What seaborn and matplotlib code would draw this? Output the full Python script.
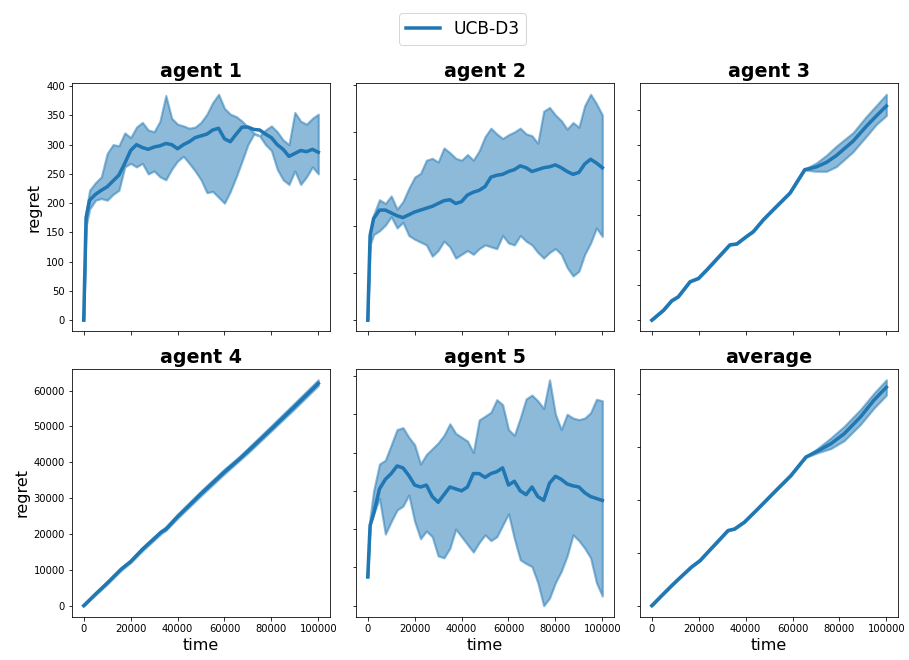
import numpy as np
import matplotlib
matplotlib.use("Agg")
import matplotlib.pyplot as plt
import seaborn as sns

# Shared time grid for the noisy agents (steps)
steps = [0, 1000] + list(range(2500, 100001, 2500))

# Agent 1 regret: mean and band bounds
a1_mean = [0, 175, 205, 215, 222, 228, 238, 248, 268, 290, 300, 295, 292, 296, 298, 302,
           300, 293, 300, 305, 312, 315, 318, 325, 328, 310, 305, 318, 330, 330, 326, 325,
           318, 312, 300, 292, 280, 285, 290, 288, 292, 287]
a1_upper = [0, 185, 222, 235, 245, 285, 300, 298, 320, 312, 330, 338, 325, 322, 340, 384,
            345, 335, 332, 328, 330, 338, 352, 372, 386, 362, 352, 348, 340, 330, 320, 315,
            325, 332, 322, 308, 300, 355, 340, 335, 345, 352]
a1_lower = [0, 160, 190, 205, 208, 205, 215, 222, 262, 268, 262, 268, 250, 255, 245, 240,
            258, 272, 280, 268, 255, 240, 218, 220, 210, 200, 220, 245, 272, 300, 318, 315,
            300, 290, 258, 240, 232, 255, 232, 245, 262, 250]

# Agent 2 regret
a2_mean = [0, 90, 108, 117, 117, 114, 111, 109, 112, 115, 117, 119, 121, 124, 127, 128,
           124, 126, 133, 136, 138, 142, 152, 154, 155, 158, 160, 164, 162, 158, 160, 162,
           163, 165, 162, 158, 155, 157, 166, 171, 167, 162]
a2_upper = [0, 95, 112, 128, 124, 132, 118, 126, 140, 152, 156, 170, 172, 168, 183, 178,
            172, 170, 176, 170, 180, 195, 204, 198, 193, 197, 200, 204, 198, 196, 188, 222,
            226, 218, 212, 203, 210, 205, 228, 240, 230, 218]
a2_lower = [0, 80, 91, 95, 101, 110, 98, 104, 90, 86, 83, 80, 68, 74, 84, 78,
            66, 70, 74, 70, 76, 80, 78, 76, 90, 82, 80, 90, 84, 80, 72, 66,
            72, 76, 70, 56, 47, 52, 70, 82, 98, 89]

# Agent 5 regret
a5_mean = [7500, 21000, 24000, 30500, 33000, 34500, 36500, 36000, 34000, 31500, 31000,
           31500, 28500, 27000, 29000, 31000, 30500, 30000, 31000, 34500, 34500, 33500,
           34500, 35000, 36000, 31500, 32500, 30000, 29000, 31000, 28500, 27500, 32000,
           33800, 33000, 31800, 31300, 31000, 29500, 28500, 28000, 27500]
a5_upper = [7500, 23000, 30000, 37000, 38000, 42000, 46000, 46500, 44000, 42000, 37000,
            39500, 41000, 42500, 44500, 47500, 45000, 44000, 43000, 40000, 48500, 49500,
            50500, 53800, 52500, 46000, 44500, 49000, 54000, 55000, 53500, 51500, 59000,
            50000, 46000, 50000, 49000, 48600, 49000, 50400, 53900, 53500]
a5_lower = [7500, 21000, 24000, 28000, 18700, 22000, 25000, 26000, 28900, 22000, 17500,
            19500, 18000, 13000, 12500, 15000, 20000, 18000, 16000, 14000, 16500, 18500,
            17000, 18000, 21000, 24000, 17500, 12000, 11000, 10200, 6000, 0, 2000,
            6000, 9000, 13000, 18500, 17000, 15000, 12500, 6000, 2500]

# Agent 3 regret
a3_steps = [0, 5000, 8500, 11300, 16300, 19900, 23400, 33300, 36200, 40400, 43300, 47500,
            53200, 58900, 65200, 70200, 74500, 78700, 85800, 91500, 95700, 100000]
a3_mean = [0, 5700, 11100, 13400, 22000, 23900, 28700, 43100, 43600, 47900, 50700, 57400,
           65100, 72700, 86100, 87700, 90300, 94200, 102400, 111000, 116800, 122500]
a3_upper = [0, 5900, 11300, 13600, 22200, 24100, 28900, 43300, 43800, 48100, 50900, 57600,
            65300, 72900, 86300, 90000, 94400, 99600, 107300, 116600, 122800, 129200]
a3_lower = [0, 5500, 10900, 13200, 21800, 23700, 28500, 42900, 43400, 47700, 50500, 57200,
            64900, 72500, 85900, 85200, 85200, 87900, 96400, 105300, 112000, 117100]

# Agent 4 regret
a4_steps = [0, 5000, 10000, 16000, 20000, 25000, 33000, 35000, 40000, 50000, 60000,
            66000, 70000, 80000, 90000, 100000]
a4_mean = [0, 3200, 6300, 10200, 12300, 15700, 20500, 21300, 24800, 31200, 37300,
           40700, 43100, 49300, 55600, 62000]
a4_upper = [0, 3400, 6600, 10500, 12700, 16200, 21000, 22000, 25500, 32000, 38100,
            41400, 43900, 50200, 56600, 63000]
a4_lower = [0, 3000, 6000, 9900, 12000, 15300, 20100, 21000, 24400, 30700, 36800,
            40300, 42600, 48800, 55000, 61400]

# Average regret over agents
avg_steps = [0, 4200, 8500, 10600, 16900, 20500, 32500, 35300, 39500, 45200, 52300,
             59300, 65700, 70600, 76300, 82000, 89000, 94600, 100000]
avg_mean = [0, 1900, 3800, 4700, 7300, 8500, 14200, 14500, 15800, 18300, 21500,
            24600, 28100, 29200, 30600, 32500, 35700, 38800, 41300]
avg_upper = [0, 1950, 3850, 4750, 7350, 8550, 14250, 14550, 15850, 18350, 21550,
             24650, 28150, 29700, 31700, 33900, 37100, 40100, 42700]
avg_lower = [0, 1850, 3750, 4650, 7250, 8450, 14150, 14450, 15750, 18250, 21450,
             24550, 28050, 28900, 29700, 31200, 34300, 37300, 39800]

titles = ["agent 1", "agent 2", "agent 3", "agent 4", "agent 5", "average"]
panels = [
    (steps, a1_mean, a1_lower, a1_upper),
    (steps, a2_mean, a2_lower, a2_upper),
    (a3_steps, a3_mean, a3_lower, a3_upper),
    (a4_steps, a4_mean, a4_lower, a4_upper),
    (steps, a5_mean, a5_lower, a5_upper),
    (avg_steps, avg_mean, avg_lower, avg_upper),
]
label = "UCB-D3"
color = "#1f77b4"

fig, axes = plt.subplots(2, 3, sharex=True, figsize=(909 / 72, 660 / 72), dpi=72)
fig.subplots_adjust(left=0.0792, right=0.988, top=0.8742, bottom=0.0652,
                    wspace=0.1008, hspace=0.149)

handle = None
for ax, title, (t, m, lo, hi) in zip(axes.flat, titles, panels):
    sns.lineplot(x=np.asarray(t), y=np.asarray(m), ax=ax, color=color, lw=3.5,
                 legend=False)
    ax.fill_between(t, lo, hi, color=color, alpha=0.5, lw=2.2)
    handle = ax.lines[0]
    ax.set_title(title, fontsize=19, fontweight="bold")
    ax.set_ylabel("")
    ax.set_xlabel("")

for ax in axes[:, 1:].flat:
    ax.tick_params(labelleft=False)
for ax in axes[:, 0]:
    ax.set_ylabel("regret", fontsize=16)
for ax in axes[1, :]:
    ax.set_xlabel("time", fontsize=16)
axes[1, 0].set_xticks([0, 20000, 40000, 60000, 80000, 100000])

fig.legend([handle], [label], loc="upper center", bbox_to_anchor=(0.509, 0.993),
           fontsize=17, handlelength=2)

fig.savefig("out.png", dpi=72)
